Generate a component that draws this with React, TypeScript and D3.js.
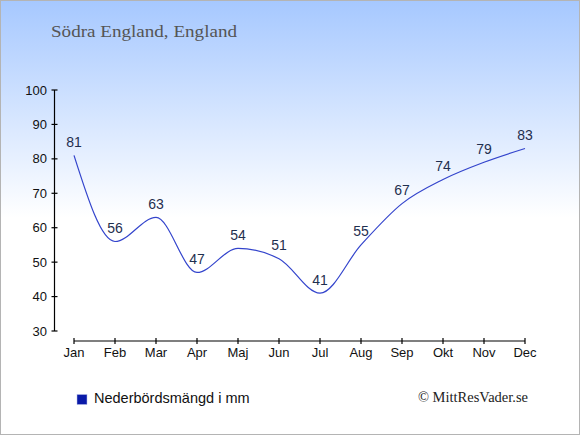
import React from "react";
import * as d3 from "d3";

const months = ["Jan", "Feb", "Mar", "Apr", "Maj", "Jun", "Jul", "Aug", "Sep", "Okt", "Nov", "Dec"];
const precipitation = [81, 56, 63, 47, 54, 51, 41, 55, 67, 74, 79, 83];
const yTicks = [30, 40, 50, 60, 70, 80, 90, 100];
const title = "Södra England, England";
const legendLabel = "Nederbördsmängd i mm";
const credit = "© MittResVader.se";

export default function App() {
  const W = 580, H = 435;
  const x = d3.scalePoint<string>().domain(months).range([74, 525]);
  const y = d3.scaleLinear().domain([30, 100]).range([331, 90]);
  const line = d3
    .line<number>()
    .x((_, i) => x(months[i]) as number)
    .y((d) => y(d))
    .curve(d3.curveMonotoneX);

  return (
    <div style={{ position: "fixed", left: 0, top: 0 }}>
      <svg width={W} height={H} style={{ display: "block" }}>
        <defs>
          <linearGradient id="bg" x1="0" y1="0" x2="0" y2="1">
            <stop offset="0" stopColor="#a6c8ff" />
            <stop offset="0.5" stopColor="#ffffff" />
            <stop offset="1" stopColor="#ffffff" />
          </linearGradient>
        </defs>
        <rect x={0.5} y={0.5} width={W - 1} height={H - 1} fill="url(#bg)" stroke="#b4b4b4" strokeWidth={1} />
        <text x={51} y={37} fontFamily="'Liberation Serif', serif" fontSize={17.5} fill="#555555" textLength={186} lengthAdjust="spacingAndGlyphs">
          {title}
        </text>

        {/* y axis */}
        <line x1={54.5} x2={54.5} y1={y(100)} y2={y(30)} stroke="#000" strokeWidth={1.2} />
        {yTicks.map((t) => (
          <g key={t}>
            <line x1={51.5} x2={57.5} y1={y(t)} y2={y(t)} stroke="#000" strokeWidth={1.2} />
            <text x={47} y={y(t)} dy="0.35em" textAnchor="end" fontFamily="'Liberation Sans', Arial, sans-serif" fontSize={13} fill="#111">
              {t}
            </text>
          </g>
        ))}

        {/* x axis */}
        <line x1={x("Jan")} x2={x("Dec")} y1={341} y2={341} stroke="#000" strokeWidth={1.2} />
        {months.map((m) => (
          <g key={m}>
            <line x1={x(m)} x2={x(m)} y1={338} y2={344} stroke="#000" strokeWidth={1.2} />
            <text x={x(m)} y={357} textAnchor="middle" fontFamily="'Liberation Sans', Arial, sans-serif" fontSize={13} fill="#111">
              {m}
            </text>
          </g>
        ))}

        <path d={line(precipitation) || ""} fill="none" stroke="#3344cc" strokeWidth={1.2} />
        {precipitation.map((v, i) => (
          <text key={i} x={x(months[i])} y={y(v) - 8.5} textAnchor="middle" fontFamily="'Liberation Sans', Arial, sans-serif" fontSize={14} fill="#1f2f4f">
            {v}
          </text>
        ))}

        <rect x={77} y={394.5} width={10} height={10} fill="#0a1aa8" stroke="#b8c0e8" strokeWidth={0.5} />
        <text x={94} y={403} fontFamily="'Liberation Sans', Arial, sans-serif" fontSize={14.5} fill="#111">
          {legendLabel}
        </text>
        <text x={528} y={402} textAnchor="end" fontFamily="'Liberation Serif', serif" fontSize={14.5} fill="#222">
          {credit}
        </text>
      </svg>
    </div>
  );
}
